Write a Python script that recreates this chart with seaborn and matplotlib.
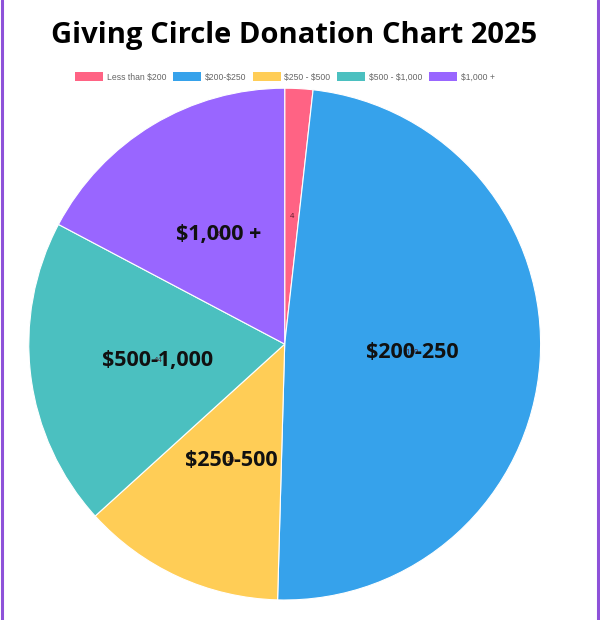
import numpy as np
import seaborn as sns
import matplotlib.pyplot as plt
from matplotlib.patches import Patch
from matplotlib.lines import Line2D

# donation brackets (slice sizes)
legend_labels = ["Less than $200", "$200-$250", "$250 - $500", "$500 - $1,000", "$1,000 +"]
slice_labels = ["", "$200-250", "$250-500", "$500-1,000", "$1,000 +"]
counts = [4, 110, 29, 44, 39]
colors = ["#ff6384", "#36a2eb", "#ffcd56", "#4bc0c0", "#9966ff"]


def main():
    sns.set_theme(style="white")
    plt.rcParams['font.family'] = ['Open Sans', 'DejaVu Sans']
    plt.rcParams['text.parse_math'] = False  # keep the dollar signs literal

    fig = plt.figure(figsize=(6, 6.2), dpi=100)
    ax = fig.add_axes([0.048, 0.032, 0.853, 0.826])

    palette = sns.color_palette(colors)
    wedges, _ = ax.pie(counts, colors=palette, startangle=90, counterclock=False,
                       wedgeprops=dict(edgecolor="white", linewidth=0.8))
    ax.set_xlim(-1, 1)
    ax.set_ylim(-1, 1)
    ax.set_aspect("equal")

    # small value labels + big bracket labels at the middle of each slice
    for w, n, lab in zip(wedges, counts, slice_labels):
        mid = np.deg2rad((w.theta1 + w.theta2) / 2)
        x, y = 0.5 * np.cos(mid), 0.5 * np.sin(mid)
        ax.text(x, y, str(n), ha="center", va="center", fontsize=5.5, color="#5a1a2a")
        if lab:
            ax.text(x, y, lab, ha="center", va="center", fontsize=15.5,
                    fontweight="bold", color="#111111")

    fig.text(0.49, 1 - 36 / 620, "Giving Circle Donation Chart 2025", ha="center",
             va="center", fontsize=21, fontweight="bold", color="black")

    handles = [Patch(facecolor=c, edgecolor="none") for c in colors]
    fig.legend(handles, legend_labels, loc="center", bbox_to_anchor=(0.475, 1 - 77 / 620),
               ncol=5, frameon=False, handlelength=3.2, handleheight=1.2,
               columnspacing=0.8, handletextpad=0.45, labelcolor="#666666",
               prop={'family': ['Liberation Sans', 'DejaVu Sans'], 'size': 6.2})

    # purple frame on the sides
    for xf in (0.003, 0.996):
        fig.add_artist(Line2D([xf, xf], [0, 1], transform=fig.transFigure,
                              color="#8e52d9", linewidth=2.2))

    fig.savefig("out.png", dpi=100)


if __name__ == '__main__':
    main()
